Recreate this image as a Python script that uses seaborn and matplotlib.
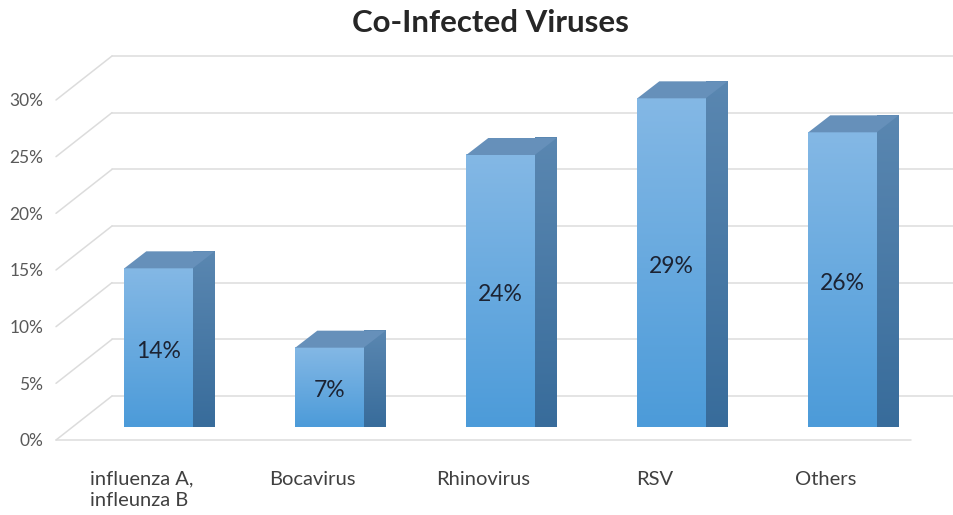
import numpy as np
import matplotlib
matplotlib.use('Agg')
import matplotlib.pyplot as plt
from matplotlib.patches import Polygon
from matplotlib.colors import LinearSegmentedColormap
import seaborn as sns

# data
categories = ['influenza A,\ninfleunza B', 'Bocavirus', 'Rhinovirus', 'RSV', 'Others']
values = [14, 7, 24, 29, 26]
bar_labels = ['14%', '7%', '24%', '29%', '26%']
yticks = [0, 5, 10, 15, 20, 25, 30]
ytick_labels = ['0%', '5%', '10%', '15%', '20%', '25%', '30%']

sns.set_theme(style='white')
plt.rcParams['font.family'] = ['Lato', 'DejaVu Sans']

W, H = 954, 515
fig = plt.figure(figsize=(W / 100, H / 100), dpi=100)
ax = fig.add_axes([56 / W, 75 / H, 855 / W, 340 / H])

sns.barplot(x=categories, y=values, width=0.4, color='#6aaee2', ax=ax, zorder=3)
ax.set_xlim(-0.5, 4.5)
ax.set_ylim(0, 30)

# pixel -> data conversion so the 3d offsets can be given in pixels
pos = ax.get_position()
kx = 5 / (pos.width * W)
ky = 30 / (pos.height * H)

wall = (56 * kx, 44 * ky)      # depth of the back wall
plane = (17 * kx, 13 * ky)     # where the bar fronts sit
depth = (22 * kx, 17 * ky)     # bar depth

grid_c = '#dcdcdc'
for t in yticks:
    ax.plot([-0.5 + wall[0], 5.0], [t + wall[1], t + wall[1]], color=grid_c, lw=1.1,
            clip_on=False, zorder=1)
    ax.plot([-0.5, -0.5 + wall[0]], [t, t + wall[1]], color=grid_c, lw=1.1,
            clip_on=False, zorder=1)
ax.plot([-0.5, 4.5], [0, 0], color=grid_c, lw=1.1, clip_on=False, zorder=1)

front_cm = LinearSegmentedColormap.from_list('front', ['#4c9bd9', '#84b8e5'])
side_cm = LinearSegmentedColormap.from_list('side', ['#386c9b', '#5a87b1'])
grad = np.linspace(0, 1, 256).reshape(-1, 1)

for p, v, lab in zip(ax.patches, values, bar_labels):
    x0 = p.get_x() + plane[0]
    x1 = x0 + p.get_width()
    y0 = plane[1]
    y1 = y0 + v
    p.set_x(x0)
    p.set_y(y0)
    p.set_edgecolor('none')
    p.set_clip_on(False)
    im = ax.imshow(grad, extent=[x0, x1, y0, y1], origin='lower', aspect='auto',
                   cmap=front_cm, zorder=3.5, clip_on=False)
    im.set_clip_path(p)

    side = Polygon([(x1, y0), (x1 + depth[0], y0 + depth[1]),
                    (x1 + depth[0], y1 + depth[1]), (x1, y1)],
                   closed=True, facecolor='#45769f', edgecolor='none', zorder=3, clip_on=False)
    ax.add_patch(side)
    im2 = ax.imshow(grad, extent=[x1, x1 + depth[0], y0, y1 + depth[1]], origin='lower',
                    aspect='auto', cmap=side_cm, zorder=3.5, clip_on=False)
    im2.set_clip_path(side)

    top = Polygon([(x0, y1), (x1, y1), (x1 + depth[0], y1 + depth[1]),
                   (x0 + depth[0], y1 + depth[1])],
                  closed=True, facecolor='#6690ba', edgecolor='none', zorder=4, clip_on=False)
    ax.add_patch(top)

    ax.text((x0 + x1) / 2, y0 + v / 2 - 0.3, lab, ha='center', va='center',
            fontsize=16.5, color='#1c2333', zorder=5)

ax.set_xlim(-0.5, 4.5)
ax.set_ylim(0, 30)

ax.set_yticks(yticks)
ax.set_yticklabels(ytick_labels)
ax.set_xticks(range(len(categories)))
ax.set_xticklabels(categories, multialignment='left', linespacing=1.3)
ax.tick_params(axis='y', length=0, pad=9, labelsize=12.5, labelcolor='#595959')
ax.tick_params(axis='x', length=0, pad=22, labelsize=14.5, labelcolor='#404040')
ax.set_xlabel('')
ax.set_ylabel('')
for s in ax.spines.values():
    s.set_visible(False)
ax.patch.set_alpha(0)

fig.text(490 / W, 1 - 23 / H, 'Co-Infected Viruses', ha='center', va='center',
         fontsize=22.5, fontweight='bold', color='#262626')

fig.savefig('out.png', dpi=100)
